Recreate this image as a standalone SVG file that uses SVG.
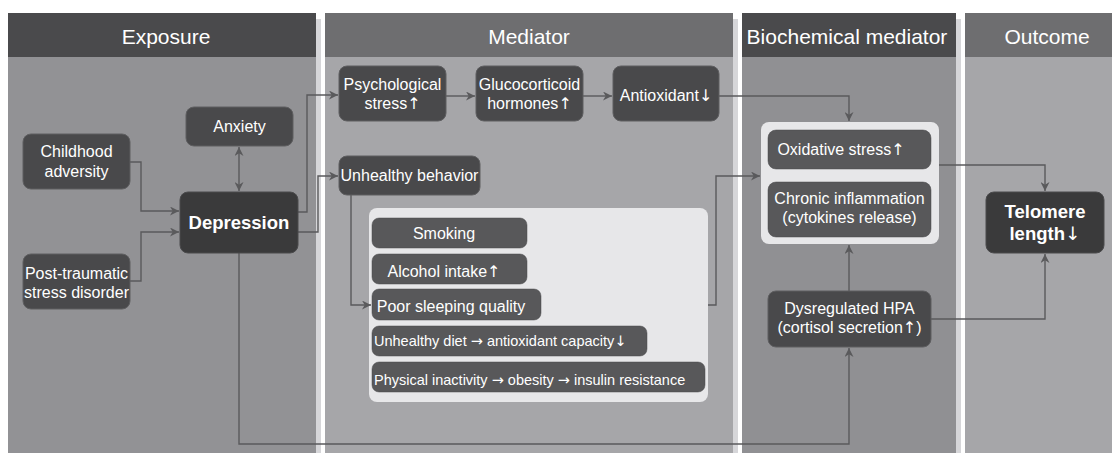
<svg xmlns="http://www.w3.org/2000/svg" width="1112" height="453" viewBox="0 0 1112 453">
<style>
.hd{font-family:"Liberation Sans",Arial,sans-serif;font-size:21px;fill:#fff;text-anchor:middle}
.t{font-family:"Liberation Sans",Arial,sans-serif;font-size:16px;fill:#fff;text-anchor:middle}
.ts{font-family:"Liberation Sans",Arial,sans-serif;font-size:14.5px;fill:#fff}
.b{font-family:"Liberation Sans",Arial,sans-serif;font-size:18.5px;font-weight:bold;fill:#fff;text-anchor:middle}
.ar{font-family:"DejaVu Sans",sans-serif;font-weight:normal}
.n{fill:#49494b;stroke:#5e5e60;stroke-width:1}
.nd{fill:#3a3a3b;stroke:#4a4a4c;stroke-width:1}
.ni{fill:#58585a;stroke:#4a4a4c;stroke-width:0.5}
.lb{fill:#e7e7e9}
.sh{fill:#d6d6d9}
.c{fill:none;stroke:#5a5a5c;stroke-width:1.4}
</style>
<defs>
<marker id="a" viewBox="0 0 10 10" refX="10" refY="5" markerWidth="9" markerHeight="9" markerUnits="userSpaceOnUse" orient="auto-start-reverse">
<path d="M0,0 L10,5 L0,10 L3,5 z" fill="#5a5a5c"/>
</marker>
</defs>
<rect width="1112" height="453" fill="#fff"/>
<g id="columns">
<rect class="sh" x="316" y="19" width="5" height="434"/>
<rect class="sh" x="733" y="19" width="5" height="434"/>
<rect class="sh" x="956" y="19" width="5" height="434"/>
<rect x="8" y="57" width="308" height="396" fill="#929295"/>
<rect x="8" y="13" width="308" height="44" fill="#4a4a4c"/>
<text class="hd" x="166" y="44">Exposure</text>
<rect x="325" y="57" width="408" height="396" fill="#a6a6a9"/>
<rect x="325" y="13" width="408" height="44" fill="#6e6e70"/>
<text class="hd" x="529" y="44">Mediator</text>
<rect x="742" y="57" width="214" height="396" fill="#909093"/>
<rect x="742" y="13" width="214" height="44" fill="#4a4a4c"/>
<text class="hd" x="847" y="44">Biochemical mediator</text>
<rect x="965" y="57" width="147" height="396" fill="#a6a6a9"/>
<rect x="965" y="13" width="147" height="44" fill="#6e6e70"/>
<text class="hd" x="1047" y="44">Outcome</text>
<rect class="lb" x="369" y="208" width="339" height="194" rx="8"/>
<rect class="lb" x="761" y="122" width="178" height="122" rx="8"/>
</g>
<g id="connectors">
<path class="c" d="M130,162 H141 V211 H179" marker-end="url(#a)"/>
<path class="c" d="M130,281 H141 V232 H179" marker-end="url(#a)"/>
<path class="c" d="M239,147 V191" marker-start="url(#a)" marker-end="url(#a)"/>
<path class="c" d="M298,212 H307 V95 H338" marker-end="url(#a)"/>
<path class="c" d="M298,232 H318 V176 H338" marker-end="url(#a)"/>
<path class="c" d="M239,253 V444 H849 V348" marker-end="url(#a)"/>
<path class="c" d="M446,96 H475" marker-end="url(#a)"/>
<path class="c" d="M583,96 H612" marker-end="url(#a)"/>
<path class="c" d="M719,96 H849 V121" marker-end="url(#a)"/>
<path class="c" d="M351,195 V305 H371" marker-end="url(#a)"/>
<path class="c" d="M708,305 H716 V176 H760" marker-end="url(#a)"/>
<path class="c" d="M849,291 V245" marker-end="url(#a)"/>
<path class="c" d="M939,165 H1045 V191" marker-end="url(#a)"/>
<path class="c" d="M931,319 H1045 V254" marker-end="url(#a)"/>
</g>
<g id="childhood">
<rect class="n" x="23" y="134" width="107" height="55" rx="8"/>
<text class="t" x="76.5" y="157">Childhood</text>
<text class="t" x="76.5" y="177">adversity</text>
</g>
<g id="anxiety">
<rect class="n" x="186" y="107" width="107" height="39" rx="8"/>
<text class="t" x="239.5" y="132">Anxiety</text>
</g>
<g id="depression">
<rect class="nd" x="180" y="192" width="118" height="61" rx="8"/>
<text class="b" x="239" y="229">Depression</text>
</g>
<g id="ptsd">
<rect class="n" x="23" y="254" width="107" height="55" rx="8"/>
<text class="t" x="76.5" y="279">Post-traumatic</text>
<text class="t" x="76.5" y="298">stress disorder</text>
</g>
<g id="psych">
<rect class="n" x="339" y="66" width="107" height="55" rx="8"/>
<text class="t" x="392.5" y="90">Psychological</text>
<text class="t" x="392.5" y="109">stress<tspan class="ar">↑</tspan></text>
</g>
<g id="gluco">
<rect class="n" x="476" y="66" width="107" height="55" rx="8"/>
<text class="t" x="529.5" y="90">Glucocorticoid</text>
<text class="t" x="529.5" y="109">hormones<tspan class="ar">↑</tspan></text>
</g>
<g id="antiox">
<rect class="n" x="613" y="66" width="106" height="55" rx="8"/>
<text class="t" x="666" y="101">Antioxidant<tspan class="ar">↓</tspan></text>
</g>
<g id="unhealthy">
<rect class="n" x="339" y="156" width="141" height="39" rx="8"/>
<text class="t" x="409.5" y="181">Unhealthy behavior</text>
</g>
<g id="smoking">
<rect class="ni" x="372" y="218" width="155" height="30" rx="7"/>
<text class="t" x="444" y="239">Smoking</text>
</g>
<g id="alcohol">
<rect class="ni" x="372" y="254" width="155" height="30" rx="7"/>
<text class="t" x="444" y="277">Alcohol intake<tspan class="ar">↑</tspan></text>
</g>
<g id="sleep">
<rect class="ni" x="372" y="289" width="169" height="31" rx="7"/>
<text class="t" x="451" y="312">Poor sleeping quality</text>
</g>
<g id="diet">
<rect class="ni" x="372" y="326" width="275" height="30" rx="7"/>
<text class="ts" x="374" y="346">Unhealthy diet <tspan class="ar">→</tspan> antioxidant capacity<tspan class="ar">↓</tspan></text>
</g>
<g id="inactivity">
<rect class="ni" x="372" y="362" width="333" height="30" rx="7"/>
<text class="ts" x="374" y="385">Physical inactivity <tspan class="ar">→</tspan> obesity <tspan class="ar">→</tspan> insulin resistance</text>
</g>
<g id="oxidative">
<rect class="ni" x="768" y="130" width="163" height="39" rx="8"/>
<text class="t" x="841" y="155">Oxidative stress<tspan class="ar">↑</tspan></text>
</g>
<g id="inflammation">
<rect class="ni" x="768" y="182" width="163" height="55" rx="8"/>
<text class="t" x="849.5" y="204">Chronic inflammation</text>
<text class="t" x="849.5" y="223">(cytokines release)</text>
</g>
<g id="hpa">
<rect class="n" x="768" y="291" width="163" height="56" rx="8"/>
<text class="t" x="849.5" y="314">Dysregulated HPA</text>
<text class="t" x="849.5" y="333">(cortisol secretion<tspan class="ar">↑</tspan>)</text>
</g>
<g id="telomere">
<rect class="nd" x="986" y="192" width="118" height="61" rx="8"/>
<text class="b" x="1045" y="218">Telomere</text>
<text class="b" x="1045" y="240">length<tspan class="ar">↓</tspan></text>
</g>
</svg>
